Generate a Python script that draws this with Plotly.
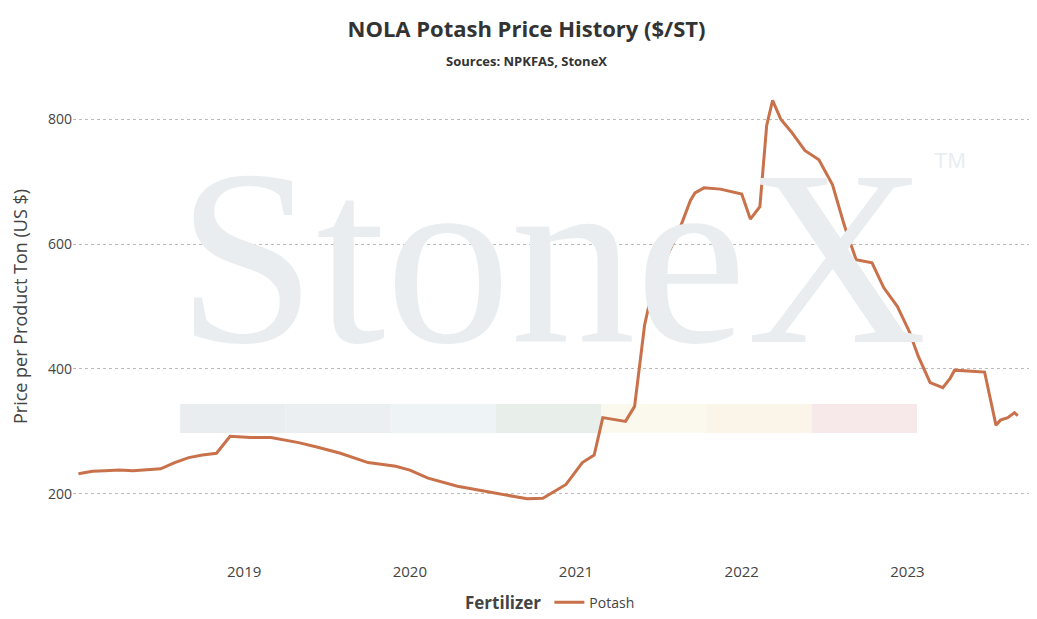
import plotly.graph_objects as go

dates = ["2018-01-01", "2018-02-01", "2018-03-01", "2018-04-01", "2018-05-01", "2018-06-01",
         "2018-07-01", "2018-08-01", "2018-09-01", "2018-10-01", "2018-11-01", "2018-12-01",
         "2019-01-15", "2019-03-01", "2019-05-01", "2019-06-10", "2019-06-20", "2019-08-01",
         "2019-10-01", "2019-12-01", "2020-01-01", "2020-02-10", "2020-04-15", "2020-06-10",
         "2020-07-15", "2020-09-15", "2020-10-20", "2020-12-10", "2021-01-15", "2021-02-10",
         "2021-03-01", "2021-03-20", "2021-04-20", "2021-05-10", "2021-06-01", "2021-06-25",
         "2021-07-20", "2021-08-15", "2021-09-10", "2021-09-20", "2021-10-10", "2021-11-15",
         "2022-01-01", "2022-01-20", "2022-02-10", "2022-02-25", "2022-03-10", "2022-03-28",
         "2022-04-20", "2022-05-20", "2022-06-20", "2022-07-20", "2022-08-15", "2022-09-10",
         "2022-10-15", "2022-11-10", "2022-12-10", "2023-01-05", "2023-01-25", "2023-02-20",
         "2023-03-20", "2023-04-05", "2023-04-15", "2023-06-20", "2023-07-01", "2023-07-15",
         "2023-07-25", "2023-08-10", "2023-08-25", "2023-09-01"]
potash = [232, 236, 237, 238, 237, 239,
          240, 250, 258, 262, 265, 292,
          290, 290, 282, 275, 273, 265,
          250, 244, 238, 225, 212, 205,
          200, 192, 193, 215, 250, 262,
          322, 320, 316, 340, 470, 550,
          580, 620, 670, 682, 690, 688,
          680, 640, 660, 790, 830, 800,
          780, 750, 735, 695, 630, 575,
          570, 530, 500, 460, 420, 378,
          370, 385, 398, 395, 355, 310,
          318, 322, 330, 325]
year_ticks = ["2019-01-01", "2020-01-01", "2021-01-01", "2022-01-01", "2023-01-01"]
year_labels = ["2019", "2020", "2021", "2022", "2023"]

fig = go.Figure()
fig.add_trace(go.Scatter(x=dates, y=potash, mode="lines", name="Potash", showlegend=True,
                         line=dict(color="#c8714a", width=3)))

fig.add_annotation(text="StoneX", xref="paper", yref="paper", x=0.5, y=0.6,
                   showarrow=False, font=dict(family="Liberation Serif", size=250, color="#eaedf0"))
fig.add_annotation(text="TM", xref="paper", yref="paper", x=0.935, y=0.83,
                   showarrow=False, font=dict(family="Arial", size=22, color="#eaedf0"))
band = ["#e9edf0", "#ebeff2", "#eef3f6", "#e8eee9", "#fbf9ee", "#fbf4e9", "#f7e8ea"]
for i, c in enumerate(band):
    fig.add_shape(type="rect", xref="paper", yref="paper", x0=0.112 + i * 0.11,
                  x1=0.112 + (i + 1) * 0.11, y0=0.24, y1=0.3, fillcolor=c, line_width=0, layer="below")

fig.update_layout(
    width=1037, height=619, plot_bgcolor="white", paper_bgcolor="white",
    title=dict(text="<b>NOLA Potash Price History ($/ST)</b><br><span style='font-size:13px'><b>Sources: NPKFAS, StoneX</b></span>",
               x=0.5, y=0.953, yanchor="middle", font=dict(size=22, color="#333")),
    margin=dict(l=65, r=15, t=55, b=77),
    font=dict(family="Open Sans", color="#444"),
    xaxis=dict(showgrid=False, tickvals=year_ticks, ticktext=year_labels, tickfont=dict(size=15),
               range=["2017-12-20", "2023-09-28"], ticks="outside", ticklen=8, tickcolor="white",
               automargin=False),
    yaxis=dict(range=[110, 890], tickvals=[200, 400, 600, 800], gridcolor="#bbb",
               griddash="dot", zeroline=False, tickfont=dict(size=14), automargin=False,
               title=dict(text="Price per Product Ton (US $)", font=dict(size=18))),
    legend=dict(orientation="h", x=0.5, xanchor="center", yref="container", y=0.012, yanchor="bottom",
                title=dict(text="<b>Fertilizer</b>"), font=dict(size=14)),
)
fig.write_html("out.html")
